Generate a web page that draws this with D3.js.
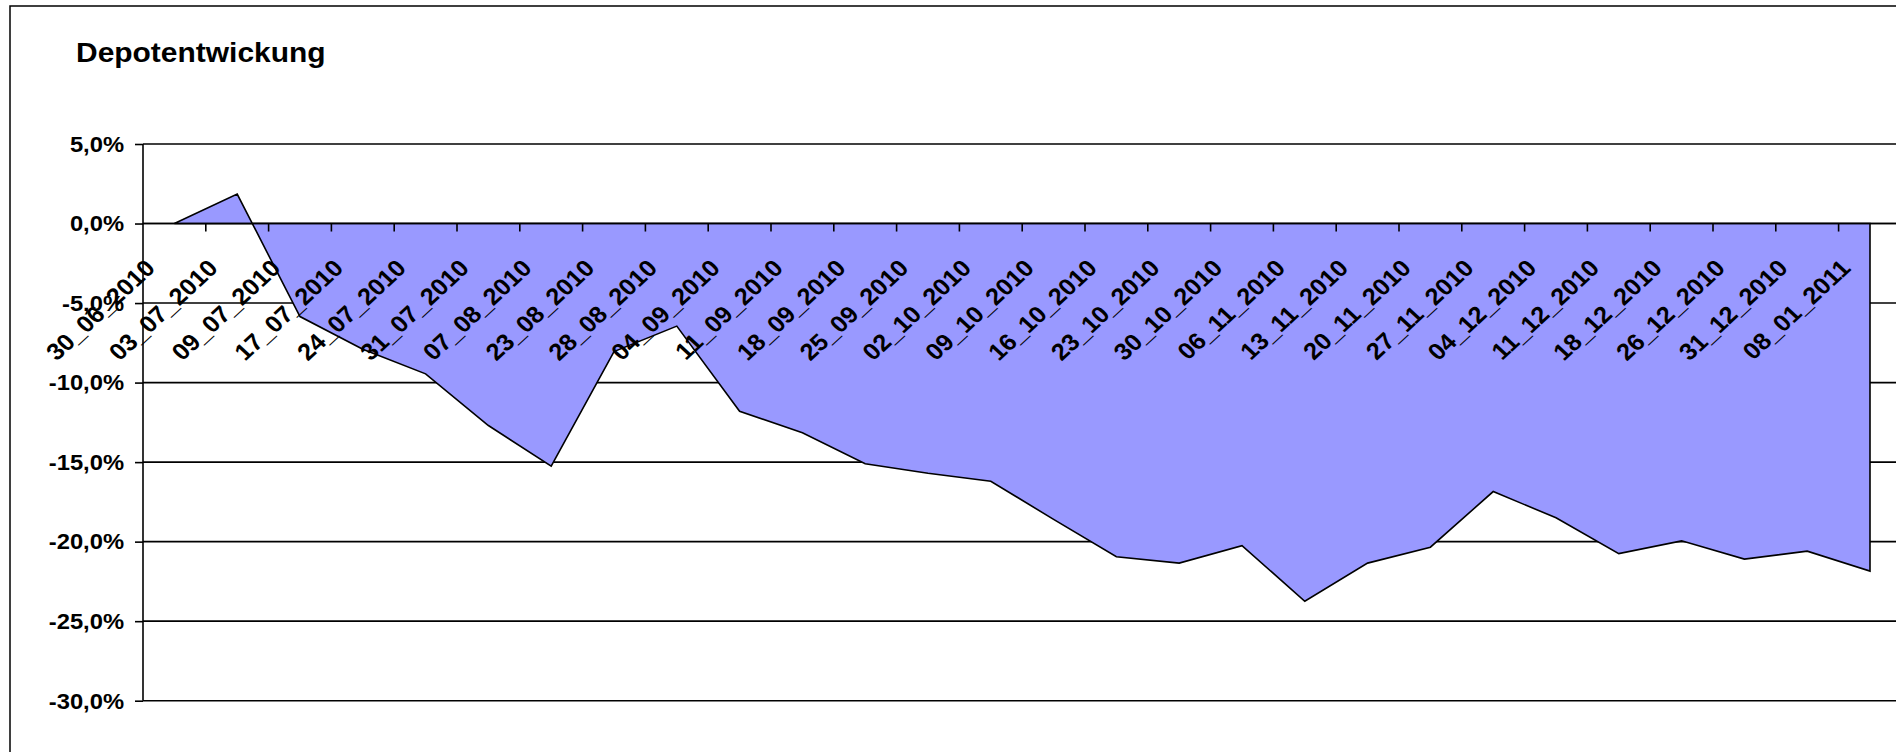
<!DOCTYPE html>
<html>
<head>
<meta charset="utf-8">
<script src="https://cdn.jsdelivr.net/npm/d3@7"></script>
<style>
  html, body { margin: 0; padding: 0; background: #ffffff; }
  svg { display: block; }
  text { font-family: "Liberation Sans", Arial, sans-serif; font-weight: bold; fill: #000; }
</style>
</head>
<body>
<svg id="chart" width="1896" height="752"></svg>
<script>
// ---- Data ----
const title = "Depotentwickung";
const categories = [
  "30_06_2010", "03_07_2010", "09_07_2010", "17_07_2010", "24_07_2010", "31_07_2010",
  "07_08_2010", "23_08_2010", "28_08_2010", "04_09_2010", "11_09_2010", "18_09_2010",
  "25_09_2010", "02_10_2010", "09_10_2010", "16_10_2010", "23_10_2010", "30_10_2010",
  "06_11_2010", "13_11_2010", "20_11_2010", "27_11_2010", "04_12_2010", "11_12_2010",
  "18_12_2010", "26_12_2010", "31_12_2010", "08_01_2011"
];
const values = [
  0.0, 1.85, -5.85, -7.9, -9.45, -12.7,
  -15.25, -8.05, -6.45, -11.8, -13.15, -15.1,
  -15.7, -16.2, -18.6, -20.95, -21.35, -20.25,
  -23.75, -21.35, -20.35, -16.85, -18.5, -20.75,
  -19.95, -21.1, -20.6, -21.85
];
const yTickValues = [5, 0, -5, -10, -15, -20, -25, -30];
const yTickLabels = ["5,0%", "0,0%", "-5,0%", "-10,0%", "-15,0%", "-20,0%", "-25,0%", "-30,0%"];

// ---- Layout ----
const svg = d3.select("#chart");
const plotLeft = 143, plotTop = 144, plotBottom = 700.7;
const band = 62.8;
const plotRight = plotLeft + band * categories.length;
const stretch = 1.08;

const x = d3.scaleBand().domain(categories).range([plotLeft, plotRight]).paddingInner(0).paddingOuter(0);
const y = d3.scaleLinear().domain([-30, 5]).range([plotBottom, plotTop]);
const cx = c => x(c) + x.bandwidth() / 2;

// Outer chart border (left & top visible)
svg.append("path")
  .attr("d", `M10,752 L10,6 L1896,6`)
  .attr("fill", "none").attr("stroke", "#000").attr("stroke-width", 1.5);

// Title
svg.append("text")
  .attr("transform", `translate(76,62) scale(1.07,1)`)
  .attr("font-size", 28)
  .text(title);

// Gridlines
svg.append("g").selectAll("line").data(yTickValues).join("line")
  .attr("x1", plotLeft).attr("x2", 1896)
  .attr("y1", d => y(d)).attr("y2", d => y(d))
  .attr("stroke", "#000").attr("stroke-width", 1.6);

// Area
const pts = categories.map((c, i) => ({c, v: values[i]}));
const area = d3.area().x(d => cx(d.c)).y0(y(0)).y1(d => y(d.v));
svg.append("path")
  .datum(pts)
  .attr("d", area)
  .attr("fill", "#9999ff")
  .attr("stroke", "#000")
  .attr("stroke-width", 1.6)
  .attr("stroke-linejoin", "miter");

// Y axis
const yAxis = d3.axisLeft(y).tickValues(yTickValues).tickSize(8).tickFormat(() => "");
const gy = svg.append("g").attr("transform", `translate(${plotLeft},0)`).call(yAxis);
gy.select(".domain").attr("stroke", "#000").attr("stroke-width", 1.6)
  .attr("d", `M0,${y(5)}V${y(-30)}`);
gy.selectAll(".tick line").attr("stroke", "#000").attr("stroke-width", 1.6);

// Y labels
svg.append("g").selectAll("text").data(yTickValues).join("text")
  .attr("transform", d => `translate(124,${y(d) + 7.8}) scale(${stretch},1)`)
  .attr("text-anchor", "end")
  .attr("font-size", 22)
  .text((d, i) => yTickLabels[i]);

// X axis (at 0) with ticks at band boundaries
const xAxis = d3.axisBottom(x).tickSize(0).tickFormat("");
const gx = svg.append("g").attr("transform", `translate(0,${y(0)})`).call(xAxis);
gx.select(".domain").attr("stroke", "#000").attr("stroke-width", 1.6)
  .attr("d", `M${plotLeft},0H1896`);
gx.selectAll(".tick").remove();
const boundaries = categories.map(c => x(c)).concat([plotRight]);
gx.selectAll("line.tk").data(boundaries.slice(1)).join("line")
  .attr("class", "tk")
  .attr("x1", d => d).attr("x2", d => d)
  .attr("y1", 0).attr("y2", 8)
  .attr("stroke", "#000").attr("stroke-width", 1.6);

// X labels (rotated)
svg.append("g").selectAll("text").data(categories).join("text")
  .attr("transform", d => `translate(${cx(d) - 18},${y(0) + 46}) scale(${stretch},1) rotate(-45)`)
  .attr("text-anchor", "end")
  .attr("font-size", 23.5)
  .text(d => d);
</script>
</body>
</html>
